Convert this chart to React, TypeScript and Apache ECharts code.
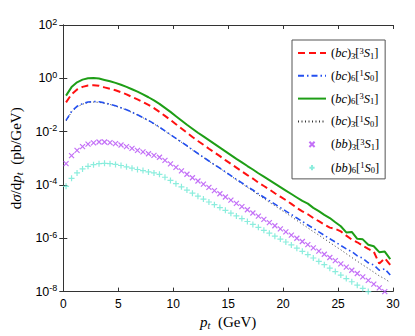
import React, { useEffect, useRef } from "react";
import * as echarts from "echarts";

// transverse momentum sample points (GeV)
const ptValues = [
  0.25, 0.75, 1.25, 1.75, 2.25, 2.75, 3.25, 3.75, 4.25, 4.75,
  5.25, 5.75, 6.25, 6.75, 7.25, 7.75, 8.25, 8.75, 9.25, 9.75,
  10.25, 10.75, 11.25, 11.75, 12.25, 12.75, 13.25, 13.75, 14.25, 14.75,
  15.25, 15.75, 16.25, 16.75, 17.25, 17.75, 18.25, 18.75, 19.25, 19.75,
  20.25, 20.75, 21.25, 21.75, 22.25, 22.75, 23.25, 23.75, 24.25, 24.75,
  25.25, 25.75, 26.25, 26.75, 27.25, 27.75, 28.25, 28.75, 29.25, 29.75,
];

// log10 of dσ/dp_t (pb/GeV)
const bc3_3S1_log10 = [
  -0.90, -0.60, -0.42, -0.32, -0.27, -0.26, -0.28, -0.34, -0.39, -0.45,
  -0.52, -0.60, -0.70, -0.79, -0.89, -1.00, -1.12, -1.26, -1.41, -1.56,
  -1.72, -1.88, -2.04, -2.20, -2.35, -2.49, -2.64, -2.78, -2.92, -3.07,
  -3.21, -3.35, -3.49, -3.63, -3.76, -3.91, -4.04, -4.17, -4.31, -4.44,
  -4.57, -4.71, -4.86, -4.99, -5.10, -5.24, -5.36, -5.48, -5.60, -5.65,
  -5.74, -5.90, -6.05, -6.15, -6.28, -6.40, -6.50, -6.95, -6.75, -7.00,
];
const bc6_1S0_log10 = [
  -1.58, -1.24, -1.05, -0.95, -0.89, -0.87, -0.88, -0.92, -0.97, -1.03,
  -1.10, -1.18, -1.27, -1.37, -1.47, -1.58, -1.70, -1.83, -1.97, -2.11,
  -2.25, -2.39, -2.53, -2.68, -2.82, -2.96, -3.10, -3.24, -3.37, -3.51,
  -3.65, -3.79, -3.92, -4.06, -4.19, -4.33, -4.46, -4.59, -4.72, -4.85,
  -4.98, -5.11, -5.24, -5.37, -5.50, -5.63, -5.76, -5.89, -6.02, -6.14,
  -6.27, -6.40, -6.50, -6.66, -6.75, -6.92, -7.00, -7.20, -7.15, -7.38,
];
const bc6_3S1_log10 = [
  -0.65, -0.33, -0.15, -0.05, 0.0, 0.01, -0.01, -0.06, -0.11, -0.17,
  -0.24, -0.32, -0.41, -0.50, -0.60, -0.71, -0.83, -0.96, -1.11, -1.26,
  -1.42, -1.58, -1.74, -1.89, -2.04, -2.18, -2.32, -2.46, -2.60, -2.74,
  -2.88, -3.02, -3.15, -3.29, -3.42, -3.56, -3.69, -3.82, -3.95, -4.08,
  -4.21, -4.34, -4.47, -4.60, -4.70, -4.86, -4.98, -5.12, -5.24, -5.40,
  -5.55, -5.78, -5.76, -6.02, -6.04, -6.24, -6.30, -6.52, -6.50, -6.78,
];
const bc3_1S0_log10 = [
  -1.60, -1.26, -1.07, -0.97, -0.91, -0.89, -0.90, -0.94, -0.98, -1.04,
  -1.11, -1.19, -1.28, -1.38, -1.48, -1.59, -1.71, -1.84, -1.98, -2.12,
  -2.26, -2.40, -2.54, -2.69, -2.83, -2.97, -3.11, -3.25, -3.38, -3.52,
  -3.66, -3.81, -3.95, -4.09, -4.23, -4.37, -4.51, -4.65, -4.78, -4.92,
  -5.05, -5.19, -5.33, -5.47, -5.61, -5.75, -5.88, -6.02, -6.16, -6.30,
  -6.43, -6.58, -6.72, -6.86, -7.00, -7.13, -7.27, -7.41, -7.52, -7.66,
];
const bb3_3S1_log10 = [
  -3.20, -2.90, -2.70, -2.56, -2.47, -2.42, -2.39, -2.39, -2.41, -2.45,
  -2.50, -2.56, -2.63, -2.70, -2.76, -2.83, -2.89, -2.96, -3.08, -3.21,
  -3.34, -3.47, -3.60, -3.73, -3.85, -3.97, -4.09, -4.21, -4.33, -4.45,
  -4.57, -4.69, -4.81, -4.93, -5.05, -5.17, -5.29, -5.41, -5.53, -5.65,
  -5.76, -5.88, -6.00, -6.12, -6.24, -6.36, -6.48, -6.60, -6.72, -6.84,
  -6.96, -7.08, -7.20, -7.32, -7.45, -7.58, -7.72, -7.86, -8.00,
];
const bb6_1S0_log10 = [
  -4.05, -3.75, -3.55, -3.40, -3.30, -3.24, -3.20, -3.19, -3.20, -3.23,
  -3.27, -3.32, -3.37, -3.42, -3.46, -3.51, -3.55, -3.60, -3.71, -3.83,
  -3.95, -4.07, -4.19, -4.31, -4.42, -4.53, -4.64, -4.74, -4.85, -4.95,
  -5.06, -5.16, -5.26, -5.37, -5.48, -5.59, -5.70, -5.81, -5.92, -6.03,
  -6.14, -6.25, -6.37, -6.49, -6.61, -6.74, -6.87, -6.99, -7.12, -7.25,
  -7.38, -7.51, -7.63, -7.76, -7.88, -8.00,
];

const lineNames = ["bc3_3S1", "bc6_1S0", "bc6_3S1", "bc3_1S0"];
const markerNames = ["bb3_3S1", "bb6_1S0"];
const legendLabels: Record<string, string> = {
  bc3_3S1: "{n|(}{i|bc}{n|)}{sub|3\u0304}{n|[}{sup|3}{i|S}{sub|1}{n|]}",
  bc6_1S0: "{n|(}{i|bc}{n|)}{sub|6}{n|[}{sup|1}{i|S}{sub|0}{n|]}",
  bc6_3S1: "{n|(}{i|bc}{n|)}{sub|6}{n|[}{sup|3}{i|S}{sub|1}{n|]}",
  bc3_1S0: "{n|(}{i|bc}{n|)}{sub|3\u0304}{n|[}{sup|1}{i|S}{sub|0}{n|]}",
  bb3_3S1: "{n|(}{i|bb}{n|)}{sub|3\u0304}{n|[}{sup|3}{i|S}{sub|1}{n|]}",
  bb6_1S0: "{n|(}{i|bb}{n|)}{sub|6}{n|[}{sup|1}{i|S}{sub|0}{n|]}",
};

const CROSS = "path://M0,0L10,10M10,0L0,10";
const PLUS = "path://M5,0L5,10M0,5L10,5";
const CROSS_LEGEND = "path://M-22,-7M32,17M0,0L10,10M10,0L0,10";
const PLUS_LEGEND = "path://M-22,-7M32,17M5,0L5,10M0,5L10,5";

const SERIF = "'Liberation Serif', 'DejaVu Serif', serif";
const SANS = "'Liberation Sans', Arial, sans-serif";

const toData = (logs: number[]) => logs.map((e, i) => [ptValues[i], Math.pow(10, e)]);

export default function App() {
  const ref = useRef<HTMLDivElement>(null);
  useEffect(() => {
    document.body.style.margin = "0";
    const chart = echarts.init(ref.current!, null, { renderer: "svg" });
    const legendRich = {
      n: { fontFamily: SERIF, fontSize: 12.5, lineHeight: 14, color: "#000" },
      i: { fontFamily: SERIF, fontSize: 12.5, lineHeight: 14, fontStyle: "italic", color: "#000" },
      sub: { fontFamily: SERIF, fontSize: 8.5, lineHeight: 8, verticalAlign: "bottom", color: "#000" },
      sup: { fontFamily: SERIF, fontSize: 8.5, lineHeight: 8, verticalAlign: "top", color: "#000" },
    };
    const nameRich = {
      n: { fontFamily: SERIF, fontSize: 15, lineHeight: 18, color: "#000" },
      i: { fontFamily: SERIF, fontSize: 15, lineHeight: 18, fontStyle: "italic", color: "#000" },
      sub: { fontFamily: SERIF, fontSize: 10.5, lineHeight: 12, fontStyle: "italic", verticalAlign: "bottom", color: "#000" },
    };
    const axisLineStyle = { color: "#333", width: 1 };
    const option: any = {
      animation: false,
      backgroundColor: "#fff",
      grid: { left: 54, right: 22, top: 25, bottom: 44, containLabel: false },
      legend: {
        orient: "vertical",
        left: 292,
        top: 40,
        padding: [6, 6, 4, 5],
        itemGap: 8.8,
        itemWidth: 28,
        itemHeight: 14,
        borderColor: "#555",
        borderWidth: 1,
        borderRadius: 0,
        backgroundColor: "#fff",
        data: [
          ...lineNames.map((name) => ({ name, itemStyle: { opacity: 0 } })),
          { name: "bb3_3S1", icon: CROSS_LEGEND },
          { name: "bb6_1S0", icon: PLUS_LEGEND },
        ],
        formatter: (name: string) => legendLabels[name],
        textStyle: { rich: legendRich },
      },
      xAxis: [
        {
          type: "value",
          min: 0,
          max: 30,
          interval: 5,
          name: "{i|p}{sub|t}{n|  (GeV)}",
          nameLocation: "middle",
          nameGap: 20,
          nameTextStyle: { rich: nameRich },
          axisLine: { lineStyle: axisLineStyle },
          axisTick: { inside: true, length: 4, lineStyle: axisLineStyle },
          axisLabel: { color: "#000", fontSize: 12, fontFamily: SANS, margin: 6 },
          splitLine: { show: false },
        },
        {
          type: "value",
          position: "top",
          min: 0,
          max: 30,
          interval: 5,
          axisLine: { lineStyle: axisLineStyle },
          axisTick: { inside: true, length: 4, lineStyle: axisLineStyle },
          axisLabel: { show: false },
          splitLine: { show: false },
        },
      ],
      yAxis: [
        {
          type: "log",
          logBase: 10,
          min: 1e-8,
          max: 1e2,
          interval: 2,
          name: "{n|d}{i|σ}{n|/d}{i|p}{sub|t}{n|  (pb/GeV)}",
          nameLocation: "middle",
          nameRotate: 90,
          nameGap: 32,
          nameTextStyle: { rich: nameRich },
          axisLine: { lineStyle: axisLineStyle },
          axisTick: { inside: true, length: 4, lineStyle: axisLineStyle },
          axisLabel: {
            margin: 6,
            formatter: (v: number) => `{b|10}{e|${Math.round(Math.log10(v))}}`,
            rich: {
              b: { fontFamily: SANS, fontSize: 12.5, lineHeight: 16, color: "#000" },
              e: { fontFamily: SANS, fontSize: 9, lineHeight: 9, verticalAlign: "top", color: "#000" },
            },
          },
          splitLine: { show: false },
        },
        {
          type: "log",
          logBase: 10,
          position: "right",
          min: 1e-8,
          max: 1e2,
          interval: 2,
          axisLine: { lineStyle: axisLineStyle },
          axisTick: { inside: true, length: 4, lineStyle: axisLineStyle },
          axisLabel: { show: false },
          splitLine: { show: false },
        },
      ],
      series: [
        {
          name: "bc3_3S1",
          type: "line",
          data: toData(bc3_3S1_log10),
          showSymbol: false,
          symbol: "none",
          itemStyle: { color: "#ff1010" },
          lineStyle: { color: "#ff1010", width: 2, type: [7, 4] },
          z: 4,
        },
        {
          name: "bc6_1S0",
          type: "line",
          data: toData(bc6_1S0_log10),
          showSymbol: false,
          symbol: "none",
          itemStyle: { color: "#2450f0" },
          lineStyle: { color: "#2450f0", width: 1.6, type: [6, 3, 1.5, 3] },
          z: 3,
        },
        {
          name: "bc6_3S1",
          type: "line",
          data: toData(bc6_3S1_log10),
          showSymbol: false,
          symbol: "none",
          itemStyle: { color: "#1e9e16" },
          lineStyle: { color: "#1e9e16", width: 2 },
          z: 5,
        },
        {
          name: "bc3_1S0",
          type: "line",
          data: toData(bc3_1S0_log10),
          showSymbol: false,
          symbol: "none",
          itemStyle: { color: "#333" },
          lineStyle: { color: "#333", width: 1, type: [1, 2.5] },
          z: 2,
        },
        {
          name: markerNames[0],
          type: "scatter",
          data: toData(bb3_3S1_log10),
          symbol: CROSS,
          symbolSize: 5,
          itemStyle: { color: "#b44cf5", borderColor: "#b44cf5", borderWidth: 1.2 },
        },
        {
          name: markerNames[1],
          type: "scatter",
          data: toData(bb6_1S0_log10),
          symbol: PLUS,
          symbolSize: 6,
          itemStyle: { color: "#6ee8d4", borderColor: "#6ee8d4", borderWidth: 1.2 },
        },
      ],
    };
    chart.setOption(option);
    return () => chart.dispose();
  }, []);
  return <div ref={ref} style={{ width: 415, height: 336 }} />;
}
